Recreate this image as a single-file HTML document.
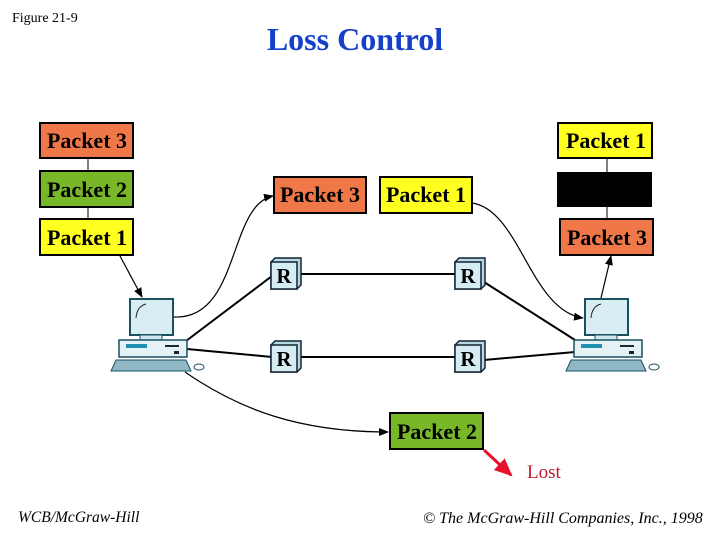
<!DOCTYPE html>
<html><head><style>
html,body{margin:0;padding:0;background:#fff;}
svg{display:block;}
</style></head><body>
<svg width="720" height="540" viewBox="0 0 720 540" xmlns="http://www.w3.org/2000/svg">
<defs>
<marker id="ah" markerWidth="10" markerHeight="8" refX="9" refY="4" orient="auto" markerUnits="userSpaceOnUse">
<path d="M0,0 L10,4 L0,8 Z" fill="#000"/></marker>
<marker id="rh" markerWidth="18" markerHeight="16" refX="16" refY="8" orient="auto" markerUnits="userSpaceOnUse">
<path d="M0,0 L18,8 L0,16 Z" fill="#e8102a"/></marker>
<g id="pc">
<rect x="130" y="299" width="43" height="36" fill="#d8eef4" stroke="#1a5060" stroke-width="2"/>
<path d="M136,318 Q137,306 146,304" stroke="#223" fill="none"/>
<rect x="140" y="335" width="22" height="5" fill="#cfe6ee" stroke="#1a5060"/>
<rect x="119" y="340" width="68" height="17" fill="#e4f2f6" stroke="#1a5060" stroke-width="1.5"/>
<rect x="126" y="344" width="21" height="4" fill="#2090b0"/>
<rect x="165" y="345" width="14" height="2" fill="#223"/>
<rect x="174" y="351" width="5" height="3" fill="#223"/>
<path d="M116,360 L186,360 L191,371 L111,371 Z" fill="#8fb8c4" stroke="#1a5060"/>
<ellipse cx="199" cy="367" rx="5" ry="3" fill="#fff" stroke="#1a5060"/>
</g>
<g id="rt">
<path d="M271,262 L275,258 L301,258 L301,285 L297,289 L271,289 Z" fill="#b8d8e2" stroke="#123" stroke-width="1.5"/>
<rect x="271" y="262" width="26" height="27" fill="#d4ecf2" stroke="#123" stroke-width="1.5"/>
<text x="284" y="283" font-family="Liberation Serif" font-weight="bold" font-size="21" text-anchor="middle">R</text>
</g>
</defs>

<text x="12" y="22" font-family="Liberation Serif" font-size="14">Figure 21-9</text>
<text x="355" y="50" font-family="Liberation Serif" font-weight="bold" font-size="32" fill="#1540c8" text-anchor="middle">Loss Control</text>

<g font-family="Liberation Serif" font-weight="bold" font-size="22" text-anchor="middle">
<line x1="88" y1="158" x2="88" y2="219" stroke="#000"/>
<rect x="40" y="123" width="93" height="35" fill="#f07848" stroke="#000" stroke-width="2"/>
<text x="87" y="148">Packet 3</text>
<rect x="40" y="171" width="93" height="36" fill="#78b828" stroke="#000" stroke-width="2"/>
<text x="87" y="197">Packet 2</text>
<rect x="40" y="219" width="93" height="36" fill="#ffff20" stroke="#000" stroke-width="2"/>
<text x="87" y="245">Packet 1</text>

<rect x="274" y="177" width="92" height="36" fill="#f07848" stroke="#000" stroke-width="2"/>
<text x="320" y="202">Packet 3</text>
<rect x="380" y="177" width="92" height="36" fill="#ffff20" stroke="#000" stroke-width="2"/>
<text x="426" y="202">Packet 1</text>

<line x1="607" y1="158" x2="607" y2="219" stroke="#000"/>
<rect x="558" y="123" width="94" height="35" fill="#ffff20" stroke="#000" stroke-width="2"/>
<text x="606" y="148">Packet 1</text>
<rect x="557" y="172" width="95" height="35" fill="#000"/>
<rect x="560" y="219" width="93" height="36" fill="#f07848" stroke="#000" stroke-width="2"/>
<text x="607" y="245">Packet 3</text>

<rect x="390" y="413" width="93" height="36" fill="#78b828" stroke="#000" stroke-width="2"/>
<text x="437" y="439">Packet 2</text>
</g>

<g stroke="#000" stroke-width="2" fill="none">
<line x1="186" y1="341" x2="272" y2="276"/>
<line x1="187" y1="349" x2="272" y2="357"/>
<line x1="300" y1="274" x2="456" y2="274"/>
<line x1="300" y1="357" x2="456" y2="357"/>
<line x1="484" y1="282" x2="575" y2="340"/>
<line x1="484" y1="360" x2="575" y2="352"/>
</g>

<use href="#rt"/>
<use href="#rt" x="184"/>
<use href="#rt" y="83"/>
<use href="#rt" x="184" y="83"/>
<use href="#pc"/>
<use href="#pc" x="455"/>

<g stroke="#000" stroke-width="1.2" fill="none">
<path d="M120,256 L142,297" marker-end="url(#ah)"/>
<path d="M174,317 C240,320 228,205 273,196" marker-end="url(#ah)"/>
<path d="M185,372 C240,410 300,432 388,432" marker-end="url(#ah)"/>
<path d="M472,203 C520,210 530,310 583,318" marker-end="url(#ah)"/>
<path d="M601,298 L611,256" marker-end="url(#ah)"/>
</g>
<path d="M484,450 L511,475" stroke="#e8102a" stroke-width="3" fill="none" marker-end="url(#rh)"/>
<text x="527" y="478" font-family="Liberation Serif" font-size="19" fill="#c01830">Lost</text>

<text x="18" y="522" font-family="Liberation Serif" font-style="italic" font-size="15.5">WCB/McGraw-Hill</text>
<text x="423" y="523" font-family="Liberation Serif" font-style="italic" font-size="16">© The McGraw-Hill Companies, Inc., 1998</text>
</svg>
</body></html>
